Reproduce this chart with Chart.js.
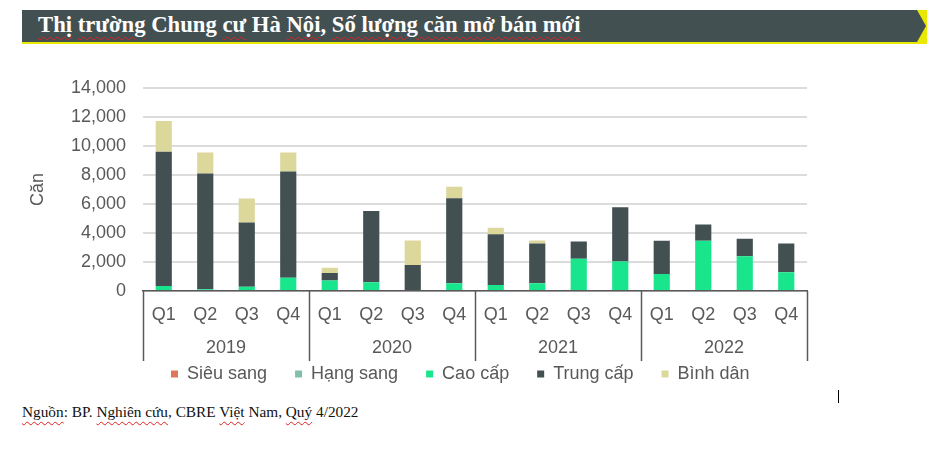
<!DOCTYPE html>
<html>
<head>
<meta charset="utf-8">
<script src="https://cdn.jsdelivr.net/npm/chart.js@4.4.0/dist/chart.umd.min.js"></script>
<style>
    body { margin: 0; background: #fff; width: 950px; height: 460px; position: relative; overflow: hidden; }
    .title-back { position: absolute; left: 22px; top: 10px; width: 905px; height: 34px; background: #e8e800; }
    .title-bar {
        position: absolute; left: 22px; top: 10px; width: 905px; height: 32px; background: #435052;
        clip-path: polygon(0 0, 895px 0, 904px 50%, 895px 100%, 0 100%);
    }
    .title-text {
        position: absolute; left: 38px; top: 11px; color: #fff;
        font-family: "Liberation Serif", "Times New Roman", serif; font-weight: bold; font-size: 22.7px; line-height: 28px;
        white-space: nowrap;
    }
    .sp { text-decoration: underline wavy #e02020; text-decoration-thickness: 1px; text-underline-offset: 4px; }
    #chart-wrap { position: absolute; left: 0; top: 60px; width: 950px; height: 335px; }
    .source {
        position: absolute; left: 22px; top: 403px; color: #111;
        font-family: "Liberation Serif", "Times New Roman", serif; font-size: 15.3px; white-space: nowrap;
    }
    .cursor { position: absolute; left: 838px; top: 390px; width: 1px; height: 13px; background: #000; }
</style>
</head>
<body>
<div class="title-back"></div>
<div class="title-bar"></div>
<div class="title-text"><span class="sp">Thị</span> <span class="sp">trường</span> Chung <span class="sp">cư</span> Hà <span class="sp">Nội</span>, <span class="sp">Số lượng căn mở bán mới</span></div>
<div id="chart-wrap"><canvas id="chart"></canvas></div>
<div class="source"><span class="sp">Nguồn</span>: BP. <span class="sp">Nghiên cứu</span>, CBRE <span class="sp">Việt</span> Nam, <span class="sp">Quý</span> 4/2022</div>
<div class="cursor"></div>
<script>
// Categories
const quarters = ['Q1', 'Q2', 'Q3', 'Q4', 'Q1', 'Q2', 'Q3', 'Q4', 'Q1', 'Q2', 'Q3', 'Q4', 'Q1', 'Q2', 'Q3', 'Q4'];
const years = ['2019', '2020', '2021', '2022'];

// Series (units)
const sieuSang = [0, 0, 0, 0, 0, 0, 0, 0, 0, 0, 0, 0, 0, 0, 0, 0];
const hangSang = [0, 0, 0, 0, 0, 0, 0, 0, 0, 0, 0, 0, 0, 0, 0, 0];
const caoCap = [350, 120, 300, 920, 730, 600, 0, 530, 410, 530, 2220, 2040, 1170, 3460, 2400, 1290];
const trungCap = [9240, 7980, 4420, 7320, 510, 4920, 1790, 5860, 3500, 2750, 1190, 3730, 2290, 1120, 1200, 1990];
const binhDan = [2130, 1450, 1650, 1310, 360, 0, 1690, 800, 440, 200, 0, 0, 0, 0, 0, 0];

const textColor = '#595959';
const labelFont = { family: "'Liberation Sans', Arial, sans-serif", size: 18 };

// Year row + group separators under the quarter labels
const yearGroups = {
    id: 'yearGroups',
    afterDraw(chart) {
        const x = chart.scales.x;
        const ctx = chart.ctx;
        const top = chart.chartArea.bottom;
        const per = quarters.length / years.length;
        ctx.save();
        ctx.strokeStyle = textColor;
        ctx.lineWidth = 1.5;
        for (let i = 0; i <= years.length; i++) {
            const px = Math.round(x.getPixelForValue(i * per - 0.5)) + 0.5;
            ctx.beginPath();
            ctx.moveTo(px, top);
            ctx.lineTo(px, top + 70);
            ctx.stroke();
        }
        ctx.fillStyle = textColor;
        ctx.font = `${labelFont.size}px ${labelFont.family}`;
        ctx.textAlign = 'center';
        ctx.textBaseline = 'middle';
        years.forEach((y, i) => {
            ctx.fillText(y, x.getPixelForValue(i * per + (per - 1) / 2), top + 57);
        });
        ctx.restore();
    }
};

const ctx = document.getElementById('chart').getContext('2d');
new Chart(ctx, {
    type: 'bar',
    data: {
        labels: quarters,
        datasets: [
            { label: 'Siêu sang', data: sieuSang, backgroundColor: '#e0775a' },
            { label: 'Hạng sang', data: hangSang, backgroundColor: '#80bfac' },
            { label: 'Cao cấp', data: caoCap, backgroundColor: '#19e68c' },
            { label: 'Trung cấp', data: trungCap, backgroundColor: '#435052' },
            { label: 'Bình dân', data: binhDan, backgroundColor: '#dcd89c' }
        ]
    },
    options: {
        responsive: true,
        maintainAspectRatio: false,
        animation: false,
        datasets: {
            bar: { barPercentage: 0.39, categoryPercentage: 1, borderWidth: 0 }
        },
        layout: {
            padding: { left: 0, right: 143, top: 27, bottom: 2 }
        },
        plugins: {
            tooltip: { enabled: false },
            legend: {
                position: 'bottom',
                align: 'start',
                fullSize: false,
                labels: {
                    color: textColor,
                    font: labelFont,
                    boxWidth: 7,
                    boxHeight: 7,
                    padding: 28
                }
            }
        },
        scales: {
            x: {
                stacked: true,
                grid: { display: false, drawTicks: false },
                border: { display: true, color: textColor, width: 1.5 },
                ticks: { color: textColor, font: labelFont, padding: 13, maxRotation: 0, autoSkip: false },
                afterFit: s => { s.height = 46; }
            },
            y: {
                stacked: true,
                min: 0,
                max: 14000,
                grid: { color: '#dcdcdc', lineWidth: 2, drawTicks: false },
                border: { display: false },
                ticks: {
                    stepSize: 2000,
                    color: textColor,
                    font: labelFont,
                    padding: 17,
                    callback: v => v.toLocaleString('en-US')
                },
                title: {
                    display: true,
                    text: 'Căn',
                    color: textColor,
                    font: labelFont,
                    padding: { top: 27, bottom: 0 }
                },
                afterFit: s => { s.width = 143; }
            }
        }
    },
    plugins: [yearGroups]
});
</script>
</body>
</html>
